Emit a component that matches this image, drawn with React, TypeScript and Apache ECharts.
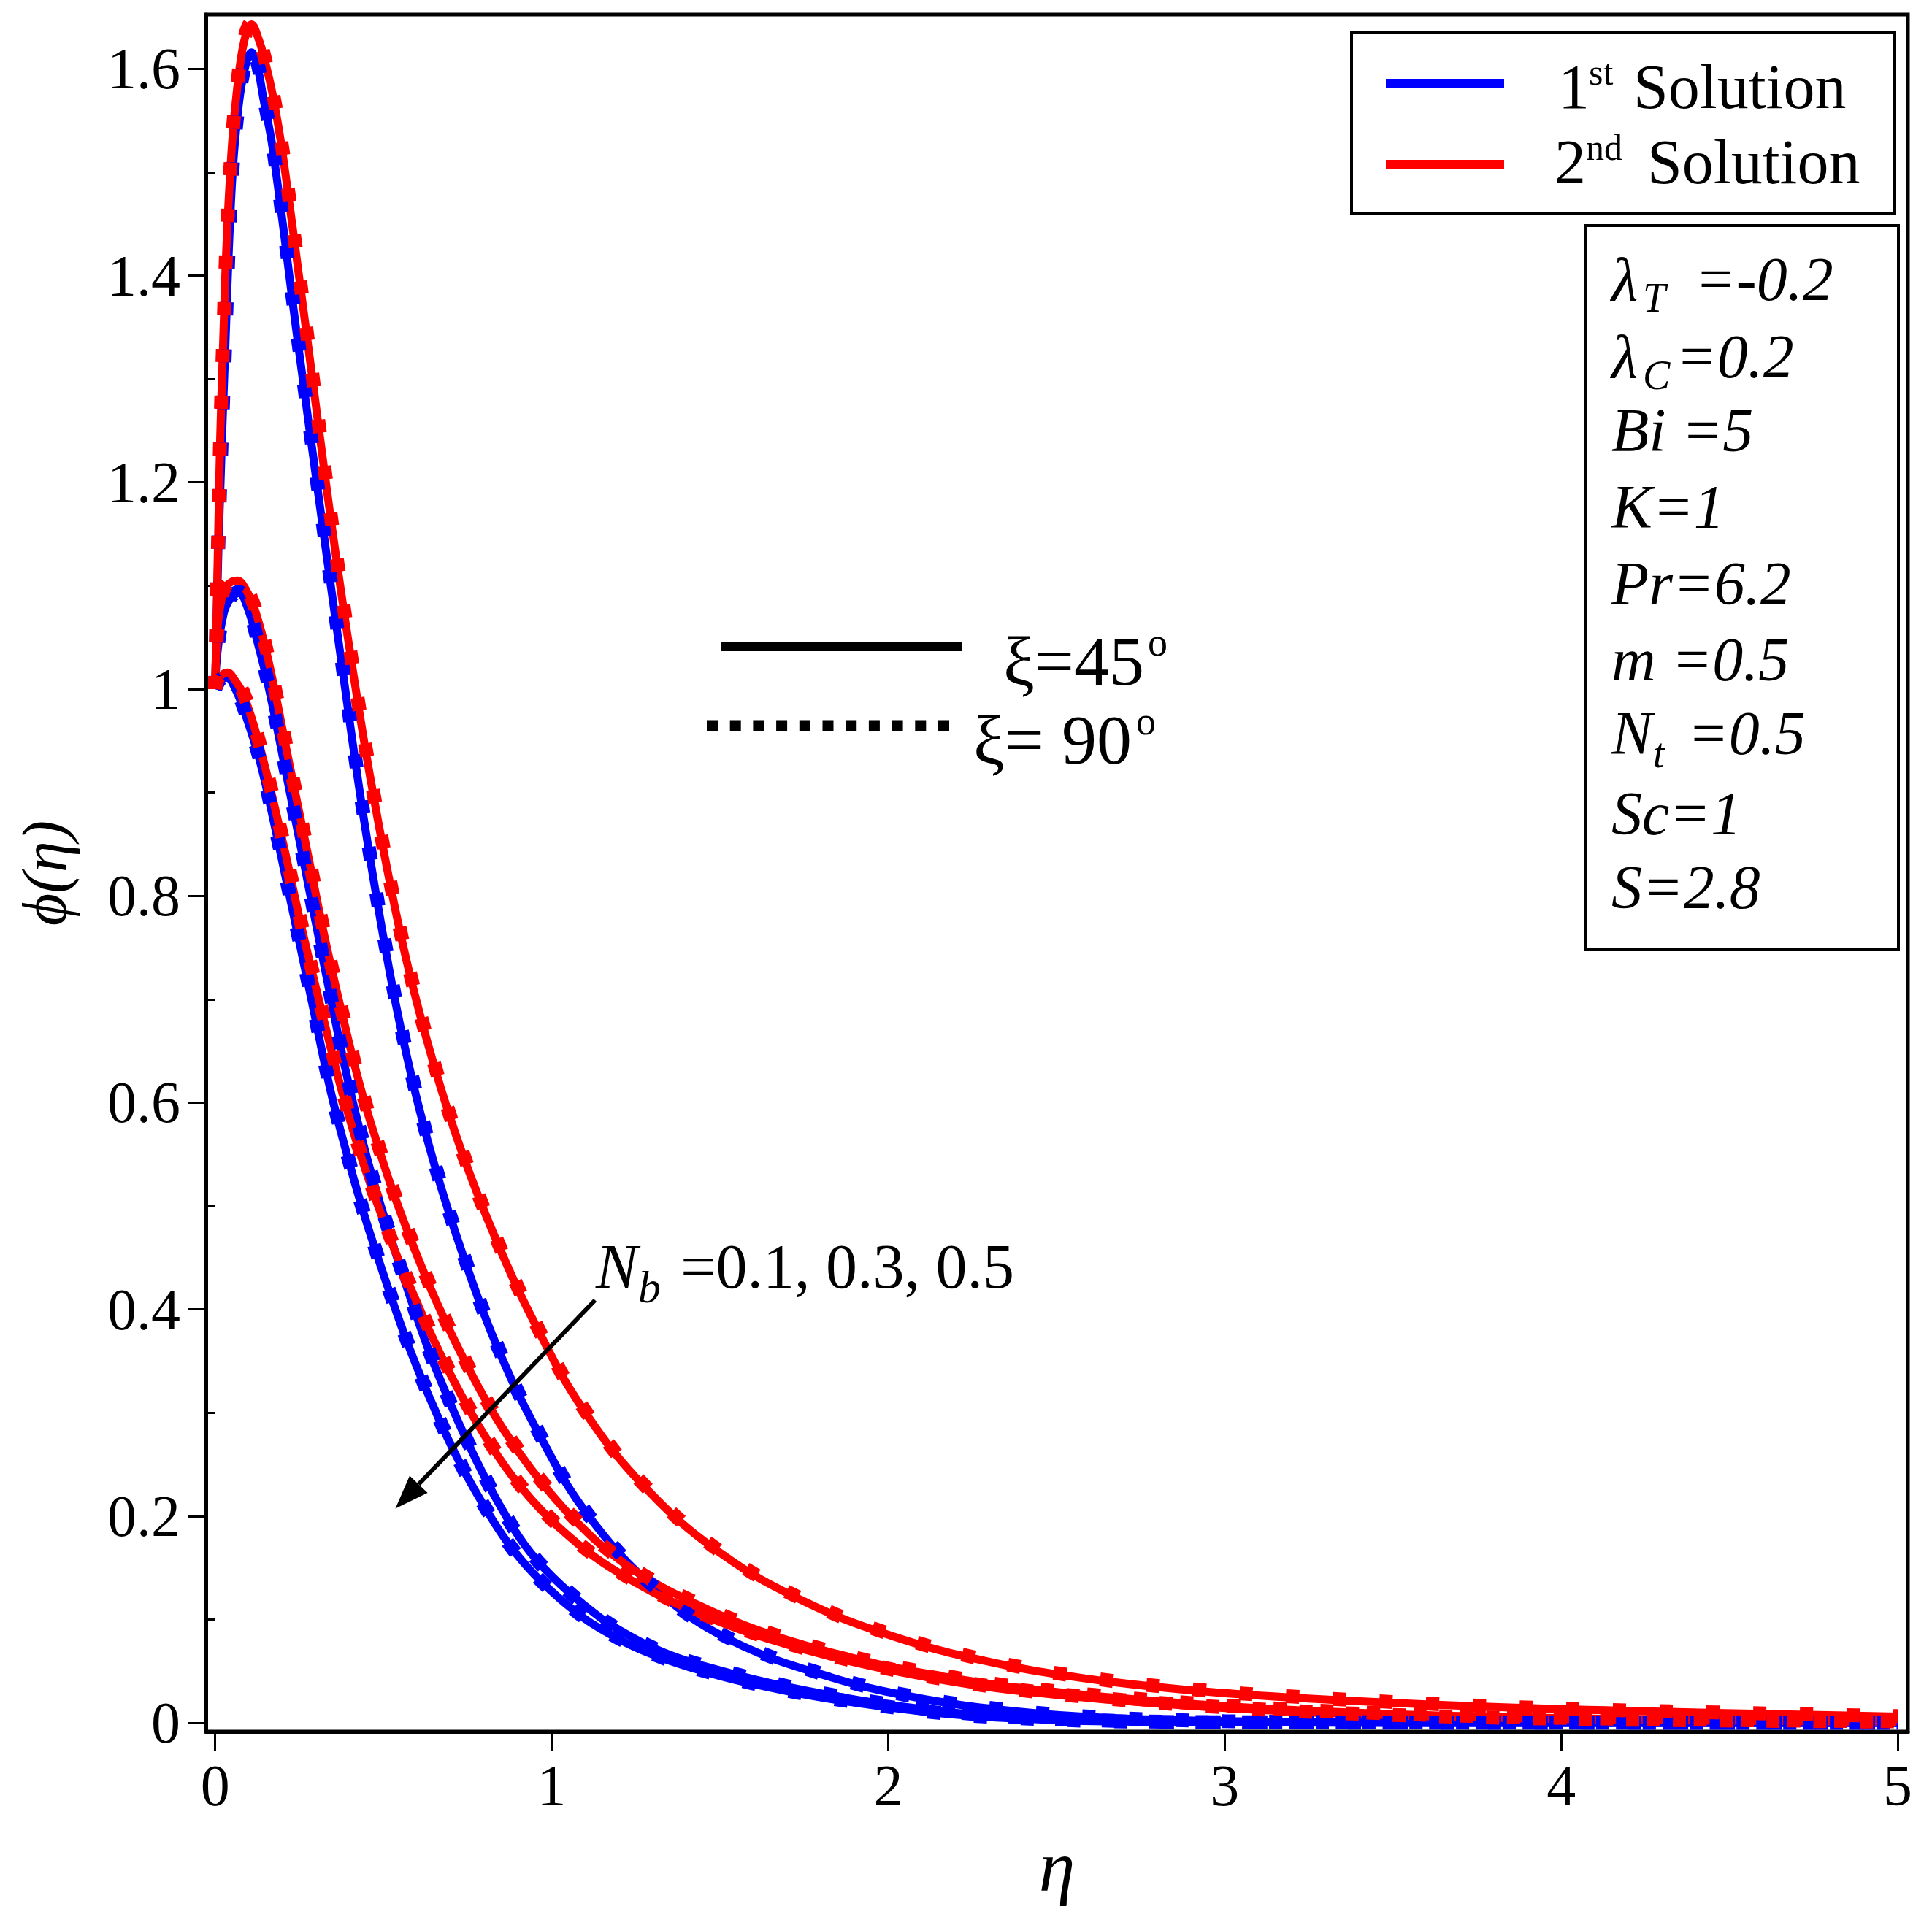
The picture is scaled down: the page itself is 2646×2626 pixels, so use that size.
import React, { useEffect, useRef } from "react";
import * as echarts from "echarts";

// ---------- axis ticks ----------
const ETA_TICKS = [0, 1, 2, 3, 4, 5];
const PHI_TICKS = [0, 0.2, 0.4, 0.6, 0.8, 1, 1.2, 1.4, 1.6];
const PHI_MINOR = [0.1, 0.3, 0.5, 0.7, 0.9, 1.1, 1.3, 1.5];
const ETA_RANGE = [-0.0275, 5.0304];
const PHI_RANGE = [-0.0085, 1.6525];

// ---------- legend / annotation texts ----------
const SOLUTION_LABELS = ["1st Solution", "2nd Solution"];
const PARAM_LINES = ["λT =-0.2", "λC=0.2", "Bi =5", "K=1", "Pr=6.2", "m =0.5", "Nt =0.5", "Sc=1", "S=2.8"];
const XI_LABELS = ["ξ=45o", "ξ= 90o"];
const NB_LABEL = "Nb =0.1, 0.3, 0.5";

// ---------- data: [eta, phi] ----------
// 1st solution (blue), xi = 45 deg (solid)
const BLUE_NB01_45 = [[0,1.0],[0.01,1.14],[0.03,1.33],[0.05,1.49],[0.07,1.565],[0.09,1.603],[0.108,1.616],[0.125,1.603],[0.144,1.57],[0.171,1.523],[0.246,1.335],[0.308,1.185],[0.38,1.015],[0.444,0.87],[0.521,0.722],[0.585,0.623],[0.654,0.537],[0.737,0.452],[0.834,0.367],[0.958,0.282],[1.11,0.2],[1.318,0.127],[1.531,0.08],[1.831,0.044],[2.107,0.023],[2.384,0.011],[2.639,0.005],[3.0,0.0015],[3.5,0.0004],[4.0,0.0001],[5.0,0.0]];
const BLUE_NB03_45 = [[0,1.0],[0.005,1.03],[0.02,1.065],[0.04,1.085],[0.071,1.093],[0.095,1.08],[0.123,1.049],[0.158,1.003],[0.216,0.91],[0.268,0.825],[0.327,0.728],[0.394,0.622],[0.45,0.548],[0.5,0.492],[0.573,0.418],[0.635,0.36],[0.704,0.305],[0.77,0.258],[0.843,0.212],[0.92,0.172],[1.0,0.142],[1.1,0.113],[1.2,0.09],[1.35,0.066],[1.531,0.048],[1.67,0.037],[1.808,0.028],[1.95,0.02],[2.085,0.014],[2.22,0.009],[2.362,0.0055],[2.7,0.0015],[3.2,0.0003],[4.0,0.0],[5.0,0.0]];
const BLUE_NB05_45 = [[0,1.0],[0.015,1.008],[0.035,1.011],[0.06,1.0],[0.085,0.98],[0.129,0.935],[0.162,0.89],[0.223,0.797],[0.284,0.703],[0.344,0.61],[0.4,0.54],[0.45,0.484],[0.523,0.412],[0.585,0.356],[0.654,0.302],[0.72,0.256],[0.795,0.212],[0.87,0.174],[0.95,0.143],[1.05,0.113],[1.15,0.09],[1.3,0.066],[1.481,0.047],[1.62,0.036],[1.758,0.027],[1.9,0.0195],[2.035,0.0135],[2.17,0.0087],[2.312,0.0053],[2.65,0.0014],[3.15,0.0003],[4.0,0.0],[5.0,0.0]];
// 2nd solution (red), xi = 45 deg (solid)
const RED_NB01_45 = [[0,1.0],[0.009,1.149],[0.015,1.243],[0.024,1.338],[0.034,1.432],[0.05,1.527],[0.065,1.58],[0.085,1.625],[0.108,1.643],[0.13,1.628],[0.15,1.605],[0.171,1.575],[0.194,1.532],[0.214,1.486],[0.251,1.395],[0.29,1.298],[0.327,1.205],[0.368,1.108],[0.412,1.012],[0.459,0.918],[0.516,0.818],[0.574,0.73],[0.647,0.64],[0.73,0.555],[0.834,0.468],[0.952,0.385],[1.09,0.305],[1.277,0.228],[1.498,0.165],[1.753,0.117],[2.016,0.0835],[2.293,0.0595],[2.584,0.043],[2.916,0.031],[3.193,0.0245],[3.7,0.0165],[4.2,0.0115],[5.0,0.006]];
const RED_NB03_45 = [[0,1.0],[0.005,1.05],[0.015,1.08],[0.03,1.098],[0.05,1.104],[0.066,1.105],[0.09,1.097],[0.119,1.076],[0.158,1.028],[0.216,0.935],[0.274,0.8425],[0.332,0.75],[0.40,0.655],[0.44,0.605],[0.481,0.561],[0.522,0.52],[0.57,0.477],[0.62,0.436],[0.665,0.402],[0.737,0.353],[0.82,0.303],[0.9,0.263],[0.979,0.229],[1.069,0.196],[1.18,0.163],[1.303,0.136],[1.429,0.115],[1.553,0.097],[1.692,0.081],[1.831,0.068],[1.968,0.057],[2.107,0.048],[2.245,0.0405],[2.384,0.034],[2.616,0.026],[2.916,0.018],[3.193,0.0125],[3.45,0.009],[3.7,0.0065],[4.2,0.0035],[5.0,0.0012]];
const RED_NB05_45 = [[0,1.0],[0.01,1.01],[0.036,1.016],[0.06,1.008],[0.085,0.994],[0.129,0.949],[0.197,0.858],[0.26,0.765],[0.332,0.668],[0.374,0.614],[0.42,0.562],[0.46,0.522],[0.5,0.486],[0.54,0.452],[0.598,0.408],[0.647,0.372],[0.715,0.327],[0.791,0.283],[0.875,0.242],[0.971,0.205],[1.082,0.172],[1.18,0.149],[1.303,0.126],[1.414,0.109],[1.553,0.091],[1.692,0.0765],[1.831,0.064],[1.968,0.0535],[2.107,0.0445],[2.245,0.037],[2.384,0.031],[2.616,0.0235],[2.916,0.016],[3.193,0.011],[3.45,0.0078],[3.7,0.0055],[4.2,0.0028],[5.0,0.001]];
// xi = 90 deg (dotted)
const BLUE_NB01_90 = [[0,1.0],[0.01,1.145],[0.03,1.335],[0.05,1.494],[0.07,1.567],[0.09,1.605],[0.11,1.618],[0.127,1.604],[0.146,1.57],[0.173,1.522],[0.248,1.334],[0.31,1.184],[0.382,1.014],[0.446,0.869],[0.523,0.722],[0.587,0.623],[0.656,0.537],[0.739,0.452],[0.836,0.367],[0.96,0.282],[1.112,0.2],[1.32,0.127],[1.533,0.081],[1.833,0.0445],[2.109,0.0235],[2.386,0.0115],[2.641,0.0052],[3.0,0.0016],[3.5,0.0004],[4.0,0.0001],[5.0,0.0]];
const BLUE_NB03_90 = [[0,1.0],[0.005,1.031],[0.02,1.066],[0.04,1.086],[0.071,1.094],[0.096,1.081],[0.124,1.05],[0.159,1.003],[0.217,0.91],[0.269,0.825],[0.328,0.728],[0.395,0.622],[0.451,0.548],[0.501,0.492],[0.574,0.418],[0.636,0.36],[0.705,0.305],[0.771,0.258],[0.844,0.212],[0.921,0.172],[1.001,0.142],[1.101,0.113],[1.201,0.09],[1.351,0.066],[1.532,0.0485],[1.671,0.0375],[1.809,0.0285],[1.951,0.0205],[2.086,0.0145],[2.221,0.0095],[2.363,0.006],[2.7,0.0017],[3.2,0.0004],[4.0,0.0001],[5.0,0.0]];
const BLUE_NB05_90 = [[0,1.0],[0.015,1.009],[0.035,1.012],[0.06,1.001],[0.086,0.981],[0.13,0.935],[0.163,0.89],[0.224,0.797],[0.285,0.703],[0.345,0.61],[0.401,0.54],[0.451,0.484],[0.524,0.412],[0.586,0.356],[0.655,0.302],[0.721,0.256],[0.796,0.212],[0.871,0.174],[0.951,0.143],[1.051,0.1135],[1.151,0.0905],[1.301,0.0665],[1.482,0.0475],[1.621,0.0365],[1.759,0.0275],[1.901,0.02],[2.036,0.014],[2.171,0.009],[2.313,0.0056],[2.65,0.0016],[3.15,0.0004],[4.0,0.0],[5.0,0.0]];
const RED_NB01_90 = [[0,1.0],[0.009,1.151],[0.015,1.245],[0.024,1.34],[0.034,1.434],[0.05,1.529],[0.065,1.582],[0.085,1.627],[0.109,1.645],[0.131,1.629],[0.151,1.606],[0.172,1.576],[0.195,1.533],[0.215,1.487],[0.252,1.396],[0.291,1.299],[0.328,1.206],[0.369,1.109],[0.413,1.013],[0.46,0.919],[0.517,0.819],[0.575,0.731],[0.648,0.641],[0.731,0.556],[0.835,0.469],[0.953,0.386],[1.091,0.306],[1.278,0.229],[1.5,0.166],[1.755,0.118],[2.018,0.0845],[2.295,0.0605],[2.586,0.044],[2.918,0.032],[3.195,0.0255],[3.7,0.0172],[4.2,0.012],[5.0,0.0065]];
const RED_NB03_90 = [[0,1.0],[0.005,1.051],[0.015,1.081],[0.03,1.099],[0.05,1.105],[0.067,1.106],[0.091,1.098],[0.12,1.077],[0.159,1.029],[0.217,0.936],[0.275,0.843],[0.333,0.751],[0.401,0.656],[0.441,0.606],[0.482,0.562],[0.523,0.521],[0.571,0.478],[0.621,0.437],[0.666,0.403],[0.738,0.354],[0.821,0.304],[0.901,0.264],[0.98,0.23],[1.07,0.197],[1.181,0.164],[1.304,0.137],[1.43,0.116],[1.554,0.098],[1.693,0.082],[1.832,0.069],[1.969,0.058],[2.108,0.049],[2.246,0.0413],[2.385,0.0348],[2.617,0.0268],[2.917,0.0187],[3.194,0.0131],[3.45,0.0095],[3.7,0.0069],[4.2,0.0038],[5.0,0.0014]];
const RED_NB05_90 = [[0,1.0],[0.01,1.011],[0.036,1.017],[0.061,1.009],[0.086,0.995],[0.13,0.95],[0.198,0.859],[0.261,0.766],[0.333,0.669],[0.375,0.615],[0.421,0.563],[0.461,0.523],[0.501,0.487],[0.541,0.453],[0.599,0.409],[0.648,0.373],[0.716,0.328],[0.792,0.284],[0.876,0.243],[0.972,0.206],[1.083,0.173],[1.181,0.15],[1.304,0.127],[1.415,0.11],[1.554,0.092],[1.693,0.0775],[1.832,0.065],[1.969,0.0545],[2.108,0.0455],[2.246,0.038],[2.385,0.032],[2.617,0.0243],[2.917,0.0167],[3.194,0.0115],[3.45,0.0082],[3.7,0.0058],[4.2,0.003],[5.0,0.0011]];

const BLUE = "#0000ff";
const RED = "#ff0000";
const SERIF = "'Liberation Serif', 'Times New Roman', serif";

const CURVES = [
  { name: "1st Solution, Nb=0.1, ξ=45°", data: BLUE_NB01_45, color: BLUE, dotted: false },
  { name: "1st Solution, Nb=0.3, ξ=45°", data: BLUE_NB03_45, color: BLUE, dotted: false },
  { name: "1st Solution, Nb=0.5, ξ=45°", data: BLUE_NB05_45, color: BLUE, dotted: false },
  { name: "2nd Solution, Nb=0.1, ξ=45°", data: RED_NB01_45, color: RED, dotted: false },
  { name: "2nd Solution, Nb=0.3, ξ=45°", data: RED_NB03_45, color: RED, dotted: false },
  { name: "2nd Solution, Nb=0.5, ξ=45°", data: RED_NB05_45, color: RED, dotted: false },
  { name: "1st Solution, Nb=0.1, ξ=90°", data: BLUE_NB01_90, color: BLUE, dotted: true },
  { name: "1st Solution, Nb=0.3, ξ=90°", data: BLUE_NB03_90, color: BLUE, dotted: true },
  { name: "1st Solution, Nb=0.5, ξ=90°", data: BLUE_NB05_90, color: BLUE, dotted: true },
  { name: "2nd Solution, Nb=0.1, ξ=90°", data: RED_NB01_90, color: RED, dotted: true },
  { name: "2nd Solution, Nb=0.3, ξ=90°", data: RED_NB03_90, color: RED, dotted: true },
  { name: "2nd Solution, Nb=0.5, ξ=90°", data: RED_NB05_90, color: RED, dotted: true },
];

// text placed by its alphabetic baseline
function txt(text: string, x: number, baseline: number, fs: number, italic = false, align = "left") {
  return {
    type: "text",
    x,
    y: baseline - 0.34 * fs,
    z: 60,
    style: {
      text,
      fontSize: fs,
      fontFamily: SERIF,
      fontStyle: italic ? "italic" : "normal",
      fill: "#000",
      align,
      verticalAlign: "middle",
    },
  };
}

function buildGraphic() {
  const els: any[] = [];
  // solution legend box
  els.push({ type: "rect", z: 50, shape: { x: 1851, y: 45, width: 744, height: 248 }, style: { fill: "#fff", stroke: "#000", lineWidth: 4 } });
  els.push({ type: "line", z: 55, shape: { x1: 1898, y1: 114, x2: 2060, y2: 114 }, style: { stroke: BLUE, lineWidth: 12 } });
  els.push({ type: "line", z: 55, shape: { x1: 1898, y1: 225, x2: 2060, y2: 225 }, style: { stroke: RED, lineWidth: 12 } });
  const [l1, l2] = SOLUTION_LABELS;
  els.push(txt(l1.slice(0, 1), 2134, 148, 86));
  els.push(txt(l1.slice(1, 3), 2176, 116, 50));
  els.push(txt(l1.slice(4), 2237, 148, 86));
  els.push(txt(l2.slice(0, 1), 2129, 251, 86));
  els.push(txt(l2.slice(1, 3), 2172, 219, 50));
  els.push(txt(l2.slice(4), 2256, 251, 86));

  // parameter box
  els.push({ type: "rect", z: 50, shape: { x: 2171, y: 309, width: 429, height: 992 }, style: { fill: "#fff", stroke: "#000", lineWidth: 4 } });
  const base = [411, 517, 618, 723, 828, 932, 1033, 1143, 1244];
  const FS = 84;
  // λ_T
  els.push(txt(PARAM_LINES[0].slice(0, 1), 2207, base[0], FS, true));
  els.push(txt(PARAM_LINES[0].slice(1, 2), 2250, base[0] + 16, 56, true));
  els.push(txt(PARAM_LINES[0].slice(2), 2300, base[0], FS, true));
  // λ_C
  els.push(txt(PARAM_LINES[1].slice(0, 1), 2207, base[1], FS, true));
  els.push(txt(PARAM_LINES[1].slice(1, 2), 2250, base[1] + 16, 56, true));
  els.push(txt(PARAM_LINES[1].slice(2), 2295, base[1], FS, true));
  for (const i of [2, 3, 4, 5]) els.push(txt(PARAM_LINES[i], 2207, base[i], FS, true));
  // N_t
  els.push(txt(PARAM_LINES[6].slice(0, 1), 2207, base[6], FS, true));
  els.push(txt(PARAM_LINES[6].slice(1, 2), 2264, base[6] + 18, 56, true));
  els.push(txt(PARAM_LINES[6].slice(2), 2290, base[6], FS, true));
  for (const i of [7, 8]) els.push(txt(PARAM_LINES[i], 2207, base[i], FS, true));

  // xi line-style key
  els.push({ type: "line", z: 55, shape: { x1: 988, y1: 886, x2: 1318, y2: 886 }, style: { stroke: "#000", lineWidth: 12 } });
  els.push({ type: "line", z: 55, shape: { x1: 968, y1: 994, x2: 1300, y2: 994 }, style: { stroke: "#000", lineWidth: 15, lineDash: [15, 16.7] } });
  els.push(txt(XI_LABELS[0].slice(0, 4), 1374, 938, 96));
  els.push(txt(XI_LABELS[0].slice(4), 1572, 898, 54));
  els.push(txt(XI_LABELS[1].slice(0, 5), 1333, 1046, 96));
  els.push(txt(XI_LABELS[1].slice(5), 1556, 1006, 54));

  // N_b annotation + arrow
  els.push(txt(NB_LABEL.slice(0, 1), 816, 1764, 86, true));
  els.push(txt(NB_LABEL.slice(1, 2), 874, 1784, 62, true));
  els.push(txt(NB_LABEL.slice(3), 932, 1764, 86));
  const sx = 815, sy = 1781, tx = 541.5, ty = 2066.5;
  const dx = tx - sx, dy = ty - sy;
  const len = Math.hypot(dx, dy);
  const ux = dx / len, uy = dy / len;
  const hl = 46, hw = 17;
  const bx = tx - hl * ux, by = ty - hl * uy;
  els.push({ type: "line", z: 55, shape: { x1: sx, y1: sy, x2: bx, y2: by }, style: { stroke: "#000", lineWidth: 6 } });
  els.push({ type: "polygon", z: 55, shape: { points: [[tx, ty], [bx - hw * uy, by + hw * ux], [bx + hw * uy, by - hw * ux]] }, style: { fill: "#000" } });
  return els;
}

export default function App() {
  const ref = useRef<HTMLDivElement>(null);
  useEffect(() => {
    document.body.style.margin = "0";
    const chart = echarts.init(ref.current!, undefined, { renderer: "svg" });
    const axisText = { fontSize: 80, fontFamily: SERIF, color: "#000" };
    const option: any = {
      animation: false,
      backgroundColor: "#fff",
      grid: {
        left: 282,
        right: 33,
        top: 20,
        bottom: 254,
        show: true,
        borderColor: "#000",
        borderWidth: 5,
        backgroundColor: "transparent",
        outerBoundsMode: "none",
      },
      xAxis: {
        type: "value",
        min: ETA_RANGE[0],
        max: ETA_RANGE[1],
        splitLine: { show: false },
        axisLine: { show: true, onZero: false, lineStyle: { color: "#000", width: 5 } },
        axisTick: { show: true, customValues: ETA_TICKS, length: 26, lineStyle: { color: "#000", width: 3 } },
        axisLabel: { customValues: ETA_TICKS, margin: 34, ...axisText, formatter: (v: number) => String(Math.round(v)) },
        name: "η",
        nameLocation: "middle",
        nameGap: 134,
        nameMoveOverlap: false,
        nameTextStyle: { fontSize: 100, fontFamily: SERIF, fontStyle: "italic", color: "#000" },
      },
      yAxis: [
        {
          type: "value",
          min: PHI_RANGE[0],
          max: PHI_RANGE[1],
          splitLine: { show: false },
          axisLine: { show: true, onZero: false, lineStyle: { color: "#000", width: 5 } },
          axisTick: { show: true, customValues: PHI_TICKS, length: 25, lineStyle: { color: "#000", width: 3 } },
          axisLabel: { customValues: PHI_TICKS, margin: 35, ...axisText, formatter: (v: number) => String(Math.round(v * 10) / 10) },
          name: "ϕ(η)",
          nameLocation: "middle",
          nameRotate: 90,
          nameGap: 178,
          nameMoveOverlap: false,
          nameTextStyle: { fontSize: 86, fontFamily: SERIF, fontStyle: "italic", color: "#000" },
        },
        {
          type: "value",
          position: "left",
          min: PHI_RANGE[0],
          max: PHI_RANGE[1],
          splitLine: { show: false },
          axisLine: { show: false },
          axisTick: { show: true, customValues: PHI_MINOR, length: 12, lineStyle: { color: "#000", width: 3 } },
          axisLabel: { show: false },
        },
      ],
      series: CURVES.map((c) => ({
        name: c.name,
        type: "line",
        data: c.data,
        showSymbol: false,
        smooth: 0.4,
        clip: true,
        z: c.dotted ? 4 : 3,
        lineStyle: c.dotted
          ? { color: c.color, width: 19, type: [18, 46], cap: "butt" }
          : { color: c.color, width: 11, type: "solid" },
      })),
      graphic: { elements: buildGraphic() },
    };
    chart.setOption(option);
    return () => chart.dispose();
  }, []);
  return <div ref={ref} style={{ width: 2646, height: 2626 }} />;
}
